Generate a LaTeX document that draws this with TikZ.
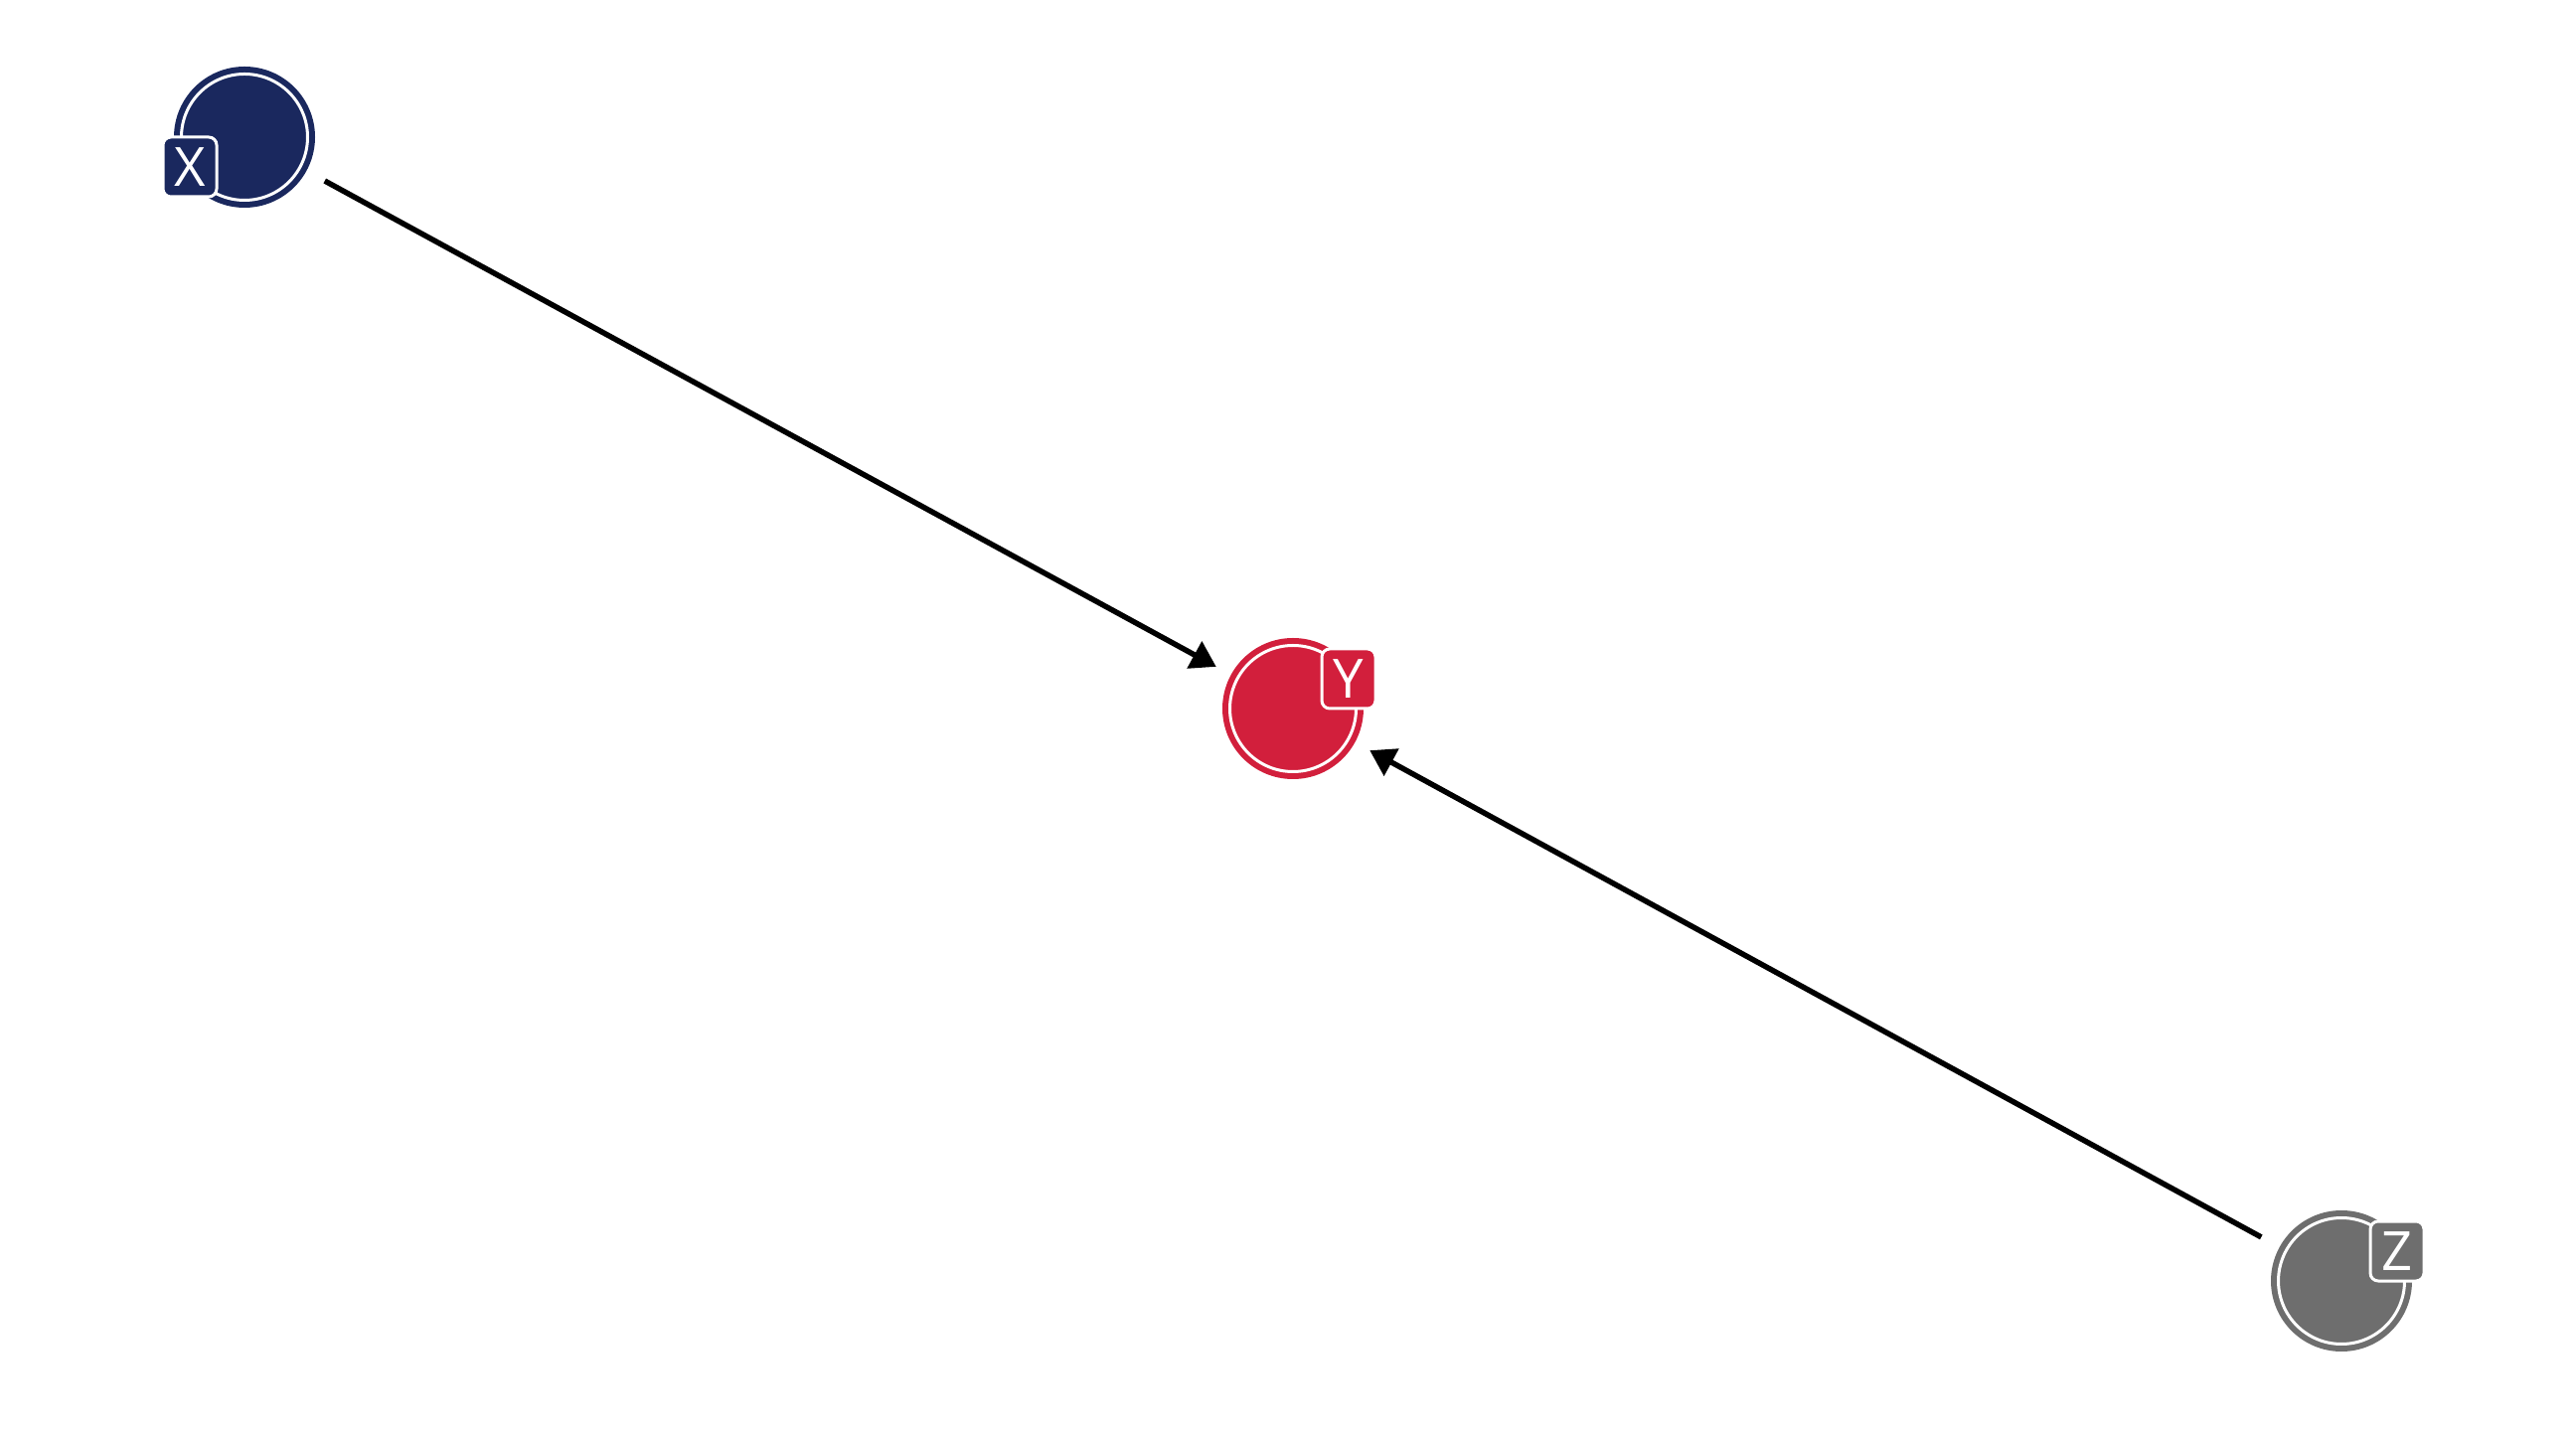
\documentclass[tikz,border=0pt]{standalone}
\usepackage{fontspec}
\setsansfont{Open Sans}
\usepackage{tikz}
\usetikzlibrary{arrows.meta,calc,positioning}

\definecolor{xnavy}{HTML}{1A285E}
\definecolor{yred}{HTML}{D21F3C}
\definecolor{zgrey}{HTML}{6E6E6E}

\tikzset{
  var/.style={circle,fill=#1,draw=#1,double=white,line width=0.06cm,
    double distance=0.03cm,inner sep=0pt,outer sep=0.075cm,minimum size=1.27cm},
  tag/.style={rectangle,rounded corners=0.08cm,fill=#1,draw=white,line width=0.03cm,
    inner sep=0pt,minimum width=0.54cm,minimum height=0.60cm,
    text=white,font=\sffamily\fontsize{15.5}{18}\selectfont},
  link/.style={line width=0.055cm,-{Triangle[length=0.25cm,width=0.30cm]},
    shorten <=0.21cm,shorten >=0.17cm}
}

\begin{document}
\begin{tikzpicture}[on grid,auto]
      \useasboundingbox (0,0) rectangle (25.92,14.40);

      \node[var=xnavy] (x) at (2.46,13.02) {};
      \node[var=yred] (y) [below right= 5.75cm and 10.55cm of x] {};
      \node[var=zgrey] (z) [below right= 5.76cm and 10.55cm of y] {};

      \node[tag=xnavy] (x_tag) [below left= 0.30cm and 0.55cm of x] {X};
      \node[tag=yred] (y_tag) [above right= 0.30cm and 0.56cm of y] {Y};
      \node[tag=zgrey] (z_tag) [above right= 0.30cm and 0.56cm of z] {Z};

      \path[link] (x) edge (y);
      \path[link] (z) edge (y);
    \end{tikzpicture}
\end{document}
